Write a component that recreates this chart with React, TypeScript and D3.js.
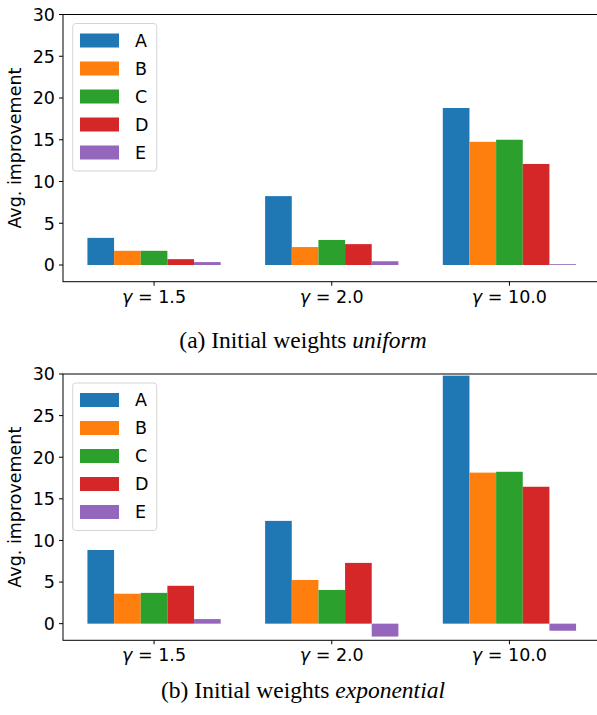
import { useEffect, useRef } from 'react';
import * as d3 from 'd3';

const gammas = ['1.5', '2.0', '10.0'];
const methods = ['A', 'B', 'C', 'D', 'E'];
const colors = ['#1f77b4', '#ff7f0e', '#2ca02c', '#d62728', '#9467bd'];
const yTicks = [0, 5, 10, 15, 20, 25, 30];

// rows = methods, cols = gamma
const uniformValues = [
  [3.25, 8.25, 18.8],
  [1.7, 2.15, 14.75],
  [1.7, 3.0, 15.0],
  [0.7, 2.5, 12.1],
  [0.35, 0.45, 0.1],
];
const exponentialValues = [
  [8.85, 12.35, 29.8],
  [3.6, 5.25, 18.15],
  [3.7, 4.05, 18.25],
  [4.55, 7.3, 16.45],
  [0.55, -1.55, -0.85],
];

const W = 597;
const H = 715;
const tickFont = '"DejaVu Sans", sans-serif';
const fs = '17.5px';
const barW = 0.15;

const App = () => {
  const svgRef = useRef(null);

  useEffect(() => {
    const svg = d3.select(svgRef.current);
    svg.selectAll('*').remove();

    const x = d3.scaleLinear().domain([-0.5125, 2.5125]).range([63, 600.5]);

    const panel = (values, top, bottom, prefix, word, captionY) => {
      const g = svg.append('g');
      const y = d3.scaleLinear().domain([-2, 30]).range([bottom, top]);

      // bars
      values.forEach((row, i) => {
        g.append('g')
          .selectAll('rect')
          .data(row)
          .join('rect')
          .attr('x', (d, j) => x(j + (i - 2) * barW - barW / 2))
          .attr('width', x(barW) - x(0))
          .attr('y', d => y(Math.max(0, d)))
          .attr('height', d => Math.abs(y(d) - y(0)))
          .attr('fill', colors[i]);
      });

      // spines
      g.append('rect')
        .attr('x', x.range()[0])
        .attr('y', top)
        .attr('width', x.range()[1] - x.range()[0])
        .attr('height', bottom - top)
        .attr('fill', 'none')
        .attr('stroke', '#000')
        .attr('stroke-width', 1);

      // y axis
      const yt = g.append('g');
      yTicks.forEach(t => {
        yt.append('line')
          .attr('x1', 59).attr('x2', 63)
          .attr('y1', y(t)).attr('y2', y(t))
          .attr('stroke', '#000');
        yt.append('text')
          .attr('x', 55)
          .attr('y', y(t))
          .attr('dy', '0.36em')
          .attr('text-anchor', 'end')
          .style('font-family', tickFont)
          .style('font-size', fs)
          .attr('fill', '#000')
          .text(t);
      });

      g.append('text')
        .attr('transform', `translate(21,${(top + bottom) / 2}) rotate(-90)`)
        .attr('text-anchor', 'middle')
        .style('font-family', tickFont)
        .style('font-size', fs)
        .text('Avg. improvement');

      // x axis
      gammas.forEach((lab, j) => {
        g.append('line')
          .attr('x1', x(j)).attr('x2', x(j))
          .attr('y1', bottom).attr('y2', bottom + 4)
          .attr('stroke', '#000');
        const t = g.append('text')
          .attr('x', x(j))
          .attr('y', bottom + 21)
          .attr('text-anchor', 'middle')
          .style('font-family', tickFont)
          .style('font-size', fs);
        t.append('tspan').style('font-style', 'italic').text('γ');
        t.append('tspan').text(` = ${lab}`);
      });

      // legend
      const lg = g.append('g').attr('transform', `translate(0,${top})`);
      lg.append('rect')
        .attr('x', 72.7).attr('y', 9)
        .attr('width', 84).attr('height', 147.5)
        .attr('rx', 3)
        .attr('fill', '#fff')
        .attr('fill-opacity', 0.8)
        .attr('stroke', '#d5d5d5');
      methods.forEach((m, i) => {
        const cy = 26 + i * 28;
        lg.append('rect')
          .attr('x', 80).attr('y', cy - 7)
          .attr('width', 39).attr('height', 14)
          .attr('fill', colors[i]);
        lg.append('text')
          .attr('x', 135).attr('y', cy)
          .attr('dy', '0.36em')
          .style('font-family', tickFont)
          .style('font-size', fs)
          .text(m);
      });

      // caption
      const c = svg.append('text')
        .attr('x', 303)
        .attr('y', captionY)
        .attr('text-anchor', 'middle')
        .style('font-family', '"Liberation Serif", "Times New Roman", serif')
        .style('font-size', '23.5px');
      c.append('tspan').text(`${prefix} Initial weights `);
      c.append('tspan').style('font-style', 'italic').text(word);
    };

    panel(uniformValues, 14.5, 281.7, '(a)', 'uniform', 348);
    panel(exponentialValues, 374, 640.3, '(b)', 'exponential', 697.5);
  }, []);

  return (
    <svg
      ref={svgRef}
      width={W}
      height={H}
      style={{ position: 'absolute', left: 0, top: 0, background: '#fff' }}
    />
  );
};

export default App;
